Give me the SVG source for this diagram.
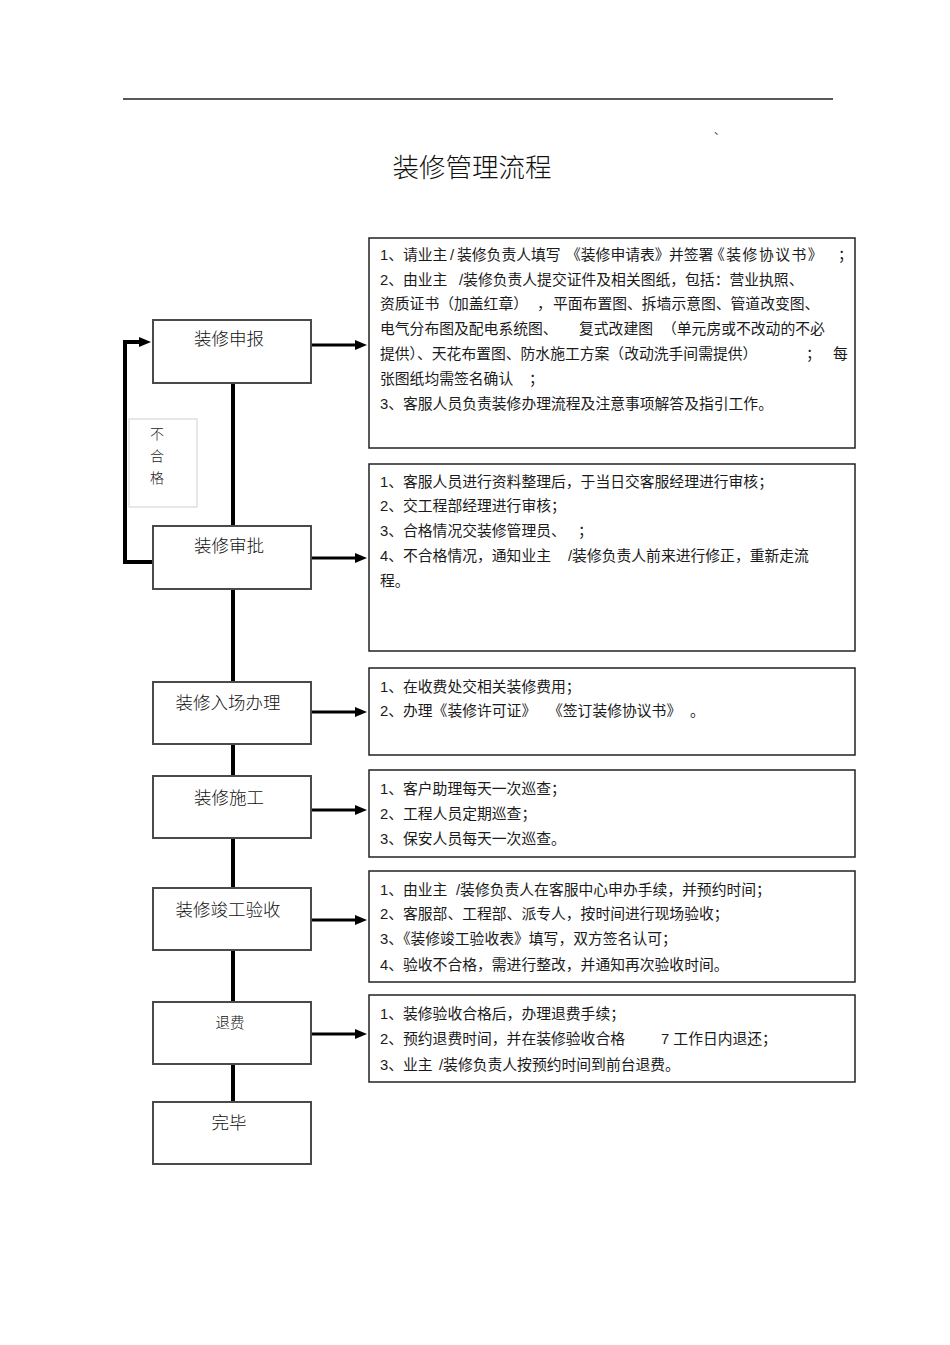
<svg xmlns="http://www.w3.org/2000/svg" width="950" height="1345" viewBox="0 0 950 1345">
<style>
  .bg { fill: #ffffff; }
  .node rect { fill: #ffffff; stroke: #4a4a4a; stroke-width: 2; }
  .node text { font-family: "Noto Sans CJK SC", "Liberation Sans", sans-serif; font-size: 17.5px; font-weight: 300; fill: #111; text-anchor: middle; }
  .desc rect { fill: #ffffff; stroke: #222; stroke-width: 1.5; }
  .desc text { font-family: "Liberation Sans", "Noto Sans CJK SC", sans-serif; font-size: 14.8px; fill: #1a1a1a; }
  .conn { fill: none; stroke: #000; stroke-width: 4; }
  .arr { fill: none; stroke: #000; stroke-width: 3; }
  .title { font-family: "Noto Sans CJK SC", sans-serif; font-size: 26.5px; font-weight: 300; fill: #111; text-anchor: middle; }
  .lbl text { font-family: "Noto Sans CJK SC", sans-serif; font-size: 14px; font-weight: 300; fill: #222; text-anchor: middle; }
</style>
<defs>
  <marker id="ah" markerUnits="userSpaceOnUse" markerWidth="13" markerHeight="12" refX="2" refY="6" orient="auto">
    <path d="M0,1 L12,6 L0,11 Z" fill="#000"/>
  </marker>
</defs>
<rect class="bg" x="0" y="0" width="950" height="1345"/>

<line x1="123" y1="99" x2="833" y2="99" stroke="#222" stroke-width="1.3"/>
<text x="714" y="134" font-family="Noto Sans CJK SC, sans-serif" font-size="11" fill="#333">、</text>
<text class="title" x="472" y="177">装修管理流程</text>

<g id="connectors">
  <path class="conn" d="M233,383 V526"/>
  <path class="conn" d="M233,589 V682"/>
  <path class="conn" d="M233,744 V776"/>
  <path class="conn" d="M233,838 V888"/>
  <path class="conn" d="M233,950 V1002"/>
  <path class="conn" d="M233,1064 V1102"/>
  <path class="conn" d="M153,562 H125 V342 H141" marker-end="url(#ah)"/>
  <path class="arr" d="M311,345 H357" marker-end="url(#ah)"/>
  <path class="arr" d="M311,558 H357" marker-end="url(#ah)"/>
  <path class="arr" d="M311,712 H357" marker-end="url(#ah)"/>
  <path class="arr" d="M311,810 H357" marker-end="url(#ah)"/>
  <path class="arr" d="M311,920 H357" marker-end="url(#ah)"/>
  <path class="arr" d="M311,1034 H357" marker-end="url(#ah)"/>
</g>

<g id="label-buhege" class="lbl">
  <rect x="129" y="419" width="68" height="88" fill="#fff" stroke="#d0d0d0" stroke-width="1"/>
  <text x="157" y="439">不</text>
  <text x="157" y="461">合</text>
  <text x="157" y="483">格</text>
</g>

<g id="node-shenbao" class="node">
  <rect x="153" y="320" width="158" height="63"/>
  <text x="229" y="344.5">装修申报</text>
</g>
<g id="node-shenpi" class="node">
  <rect x="153" y="526" width="158" height="63"/>
  <text x="229" y="551.5">装修审批</text>
</g>
<g id="node-ruchang" class="node">
  <rect x="153" y="682" width="158" height="62"/>
  <text x="228" y="709">装修入场办理</text>
</g>
<g id="node-shigong" class="node">
  <rect x="153" y="776" width="158" height="62"/>
  <text x="229" y="803.5">装修施工</text>
</g>
<g id="node-jungong" class="node">
  <rect x="153" y="888" width="158" height="62"/>
  <text x="228" y="915.5">装修竣工验收</text>
</g>
<g id="node-tuifei" class="node">
  <rect x="153" y="1002" width="158" height="62"/>
  <text x="230" y="1028" style="font-size:14.5px">退费</text>
</g>
<g id="node-wanbi" class="node">
  <rect x="153" y="1102" width="158" height="62"/>
  <text x="229" y="1129">完毕</text>
</g>

<g id="desc-shenbao" class="desc">
  <rect x="369" y="238" width="486" height="210"/>
  <text y="260"><tspan x="380">1、请业主</tspan><tspan x="450">/</tspan><tspan x="457">装修负责人填写</tspan><tspan x="566">《装修申请表》</tspan><tspan x="669">并签署</tspan><tspan x="710" letter-spacing="1.5">《装修协议书》</tspan><tspan x="838">；</tspan></text>
  <text y="285"><tspan x="380">2、由业主</tspan><tspan x="459">/装修负责人提交证件及相关图纸，包括：营业执照、</tspan></text>
  <text y="309"><tspan x="380">资质证书（加盖红章）</tspan><tspan x="537">，</tspan><tspan x="553">平面布置图、拆墙示意图、管道改变图、</tspan></text>
  <text y="334"><tspan x="380">电气分布图及配电系统图、</tspan><tspan x="579">复式改建图</tspan><tspan x="662">（单元房或不改动的不必</tspan></text>
  <text y="359"><tspan x="380">提供）、天花布置图、防水施工方案（改动洗手间需提供）</tspan><tspan x="806">；</tspan><tspan x="833">每</tspan></text>
  <text y="384"><tspan x="380">张图纸均需签名确认</tspan><tspan x="529">；</tspan></text>
  <text y="409"><tspan x="380">3、客服人员负责装修办理流程及注意事项解答及指引工作。</tspan></text>
</g>

<g id="desc-shenpi" class="desc">
  <rect x="369" y="464" width="486" height="187"/>
  <text x="380" y="487">1、客服人员进行资料整理后，于当日交客服经理进行审核；</text>
  <text x="380" y="511">2、交工程部经理进行审核；</text>
  <text y="536"><tspan x="380">3、合格情况交装修管理员、</tspan><tspan x="578">；</tspan></text>
  <text y="561"><tspan x="380">4、不合格情况，通知业主</tspan><tspan x="568">/装修负责人前来进行修正，重新走流</tspan></text>
  <text x="380" y="586">程。</text>
</g>

<g id="desc-ruchang" class="desc">
  <rect x="369" y="668" width="486" height="87"/>
  <text x="380" y="692">1、在收费处交相关装修费用；</text>
  <text y="716"><tspan x="380">2、办理《装修许可证》</tspan><tspan x="548">《签订装修协议书》</tspan><tspan x="690">。</tspan></text>
</g>

<g id="desc-shigong" class="desc">
  <rect x="369" y="770" width="486" height="87"/>
  <text x="380" y="794">1、客户助理每天一次巡查；</text>
  <text x="380" y="819">2、工程人员定期巡查；</text>
  <text x="380" y="844">3、保安人员每天一次巡查。</text>
</g>

<g id="desc-jungong" class="desc">
  <rect x="369" y="871" width="486" height="111"/>
  <text y="895"><tspan x="380">1、由业主</tspan><tspan x="456">/装修负责人在客服中心申办手续，并预约时间；</tspan></text>
  <text x="380" y="919">2、客服部、工程部、派专人，按时间进行现场验收；</text>
  <text x="380" y="944">3、《装修竣工验收表》填写，双方签名认可；</text>
  <text x="380" y="970">4、验收不合格，需进行整改，并通知再次验收时间。</text>
</g>

<g id="desc-tuifei" class="desc">
  <rect x="369" y="995" width="486" height="87"/>
  <text x="380" y="1019">1、装修验收合格后，办理退费手续；</text>
  <text y="1044"><tspan x="380">2、预约退费时间，并在装修验收合格</tspan><tspan x="661">7 工作日内退还；</tspan></text>
  <text y="1070"><tspan x="380">3、业主</tspan><tspan x="439">/装修负责人按预约时间到前台退费。</tspan></text>
</g>
</svg>
